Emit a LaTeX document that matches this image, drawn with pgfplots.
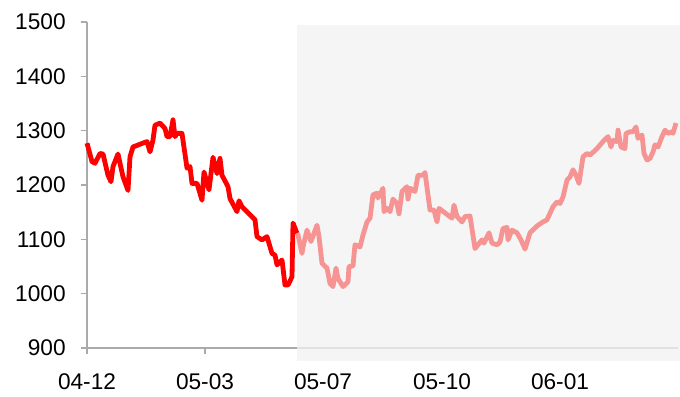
\documentclass[border=0pt]{standalone}
\usepackage{fontspec}
\setmainfont{Liberation Sans}
\usepackage{pgfplots}
\pgfplotsset{compat=1.18}
\definecolor{axisgray}{RGB}{170,170,170}
\definecolor{axisfaint}{RGB}{225,225,225}
\definecolor{histred}{RGB}{255,0,0}
\definecolor{fcpink}{RGB}{246,148,148}
\definecolor{bandgray}{RGB}{245,245,245}
\begin{document}
\begin{tikzpicture}[x=1pt,y=1pt]
% overall canvas (1px = 0.75pt)
\useasboundingbox (-65.25,-36) rectangle (444.75,261);
\begin{axis}[
  at={(0,0)}, anchor=origin,
  scale only axis,
  width=443.25pt, height=244.5pt,
  xmin=0, xmax=591, ymin=900, ymax=1500,
  clip=false,
  axis x line*=bottom, axis y line*=left,
  axis line style={axisgray, line width=0.8pt, -},
  x axis line style={draw=none},
  tick style={axisgray, line width=0.8pt},
  tick align=outside, major tick length=4.5pt,
  xtick={0,118,236,355,473,591},
  xticklabels={04-12,05-03,05-07,05-10,06-01,{}},
  ytick={900,1000,...,1500},
  /pgf/number format/assume math mode=true,
  /pgf/number format/1000 sep={},
  tick label style={font=\fontsize{17}{20}\selectfont, black},
  xticklabel style={yshift=-11pt},
  yticklabel style={xshift=-8pt},
]
% shaded forecast window
\fill[bandgray] (axis cs:210,876) rectangle (axis cs:593,1495);
\draw[axisgray, line width=0.8pt] (axis cs:0,900) -- (axis cs:210,900);
\draw[axisfaint, line width=0.8pt] (axis cs:210,900) -- (axis cs:591,900);

% history
\addplot[histred, line width=3.6pt, line join=round, no markers] coordinates {
(0,1277) (5,1243) (8,1240) (13,1258) (16,1257) (21,1218) (24,1206) (26,1234)
(31,1257) (36,1215) (41,1190) (43,1252) (46,1270) (60,1280) (63,1261) (66,1283)
(68,1310) (73,1314) (78,1304) (80,1289) (83,1289) (86,1320) (88,1289) (90,1295)
(95,1295) (100,1231) (103,1234) (105,1203) (110,1203) (115,1172) (117,1224)
(122,1191) (126,1251) (130,1221) (133,1249) (135,1218) (141,1197) (143,1175)
(150,1151) (152,1171) (155,1160) (168,1136) (170,1105) (175,1099) (180,1105)
(185,1074) (188,1071) (190,1053) (195,1062) (198,1016) (201,1016) (205,1031)
(206,1130) (210,1111)
};

% forecast
\addplot[fcpink, line width=3.6pt, line join=round, no markers] coordinates {
(210,1111) (211,1108) (215,1074) (216,1086) (220,1117) (224,1096) (230,1126)
(232,1105) (235,1056) (240,1047) (243,1019) (246,1013) (249,1047) (251,1028)
(256,1013) (261,1022) (262,1050) (266,1051) (268,1090) (273,1086) (276,1108)
(280,1132) (283,1139) (286,1182) (290,1185) (291,1176) (296,1194) (297,1151)
(300,1157) (303,1151) (306,1174) (310,1166) (312,1147) (315,1188) (320,1197)
(321,1174) (323,1194) (328,1188) (331,1218) (336,1218) (338,1223) (343,1154)
(347,1154) (350,1132) (352,1157) (365,1139) (367,1163) (370,1142) (375,1132)
(378,1142) (383,1143) (388,1083) (391,1090) (395,1099) (397,1093) (402,1112)
(405,1093) (410,1090) (413,1095) (416,1120) (420,1122) (421,1099) (425,1117)
(430,1112) (434,1099) (438,1082) (443,1112) (448,1121) (451,1126) (456,1132)
(460,1136) (463,1148) (466,1160) (470,1169) (473,1166) (476,1178) (480,1209)
(483,1215) (486,1228) (489,1218) (492,1203) (496,1252) (500,1258) (503,1255)
(510,1267) (516,1280) (521,1289) (524,1270) (526,1282) (530,1280) (531,1301)
(534,1270) (538,1267) (539,1295) (543,1298) (546,1298) (549,1307) (551,1286)
(555,1292) (557,1258) (560,1246) (563,1249) (566,1261) (568,1274) (571,1270)
(575,1289) (578,1301) (581,1295) (585,1298) (586,1295) (589,1314)
};
\end{axis}
\end{tikzpicture}
\end{document}
